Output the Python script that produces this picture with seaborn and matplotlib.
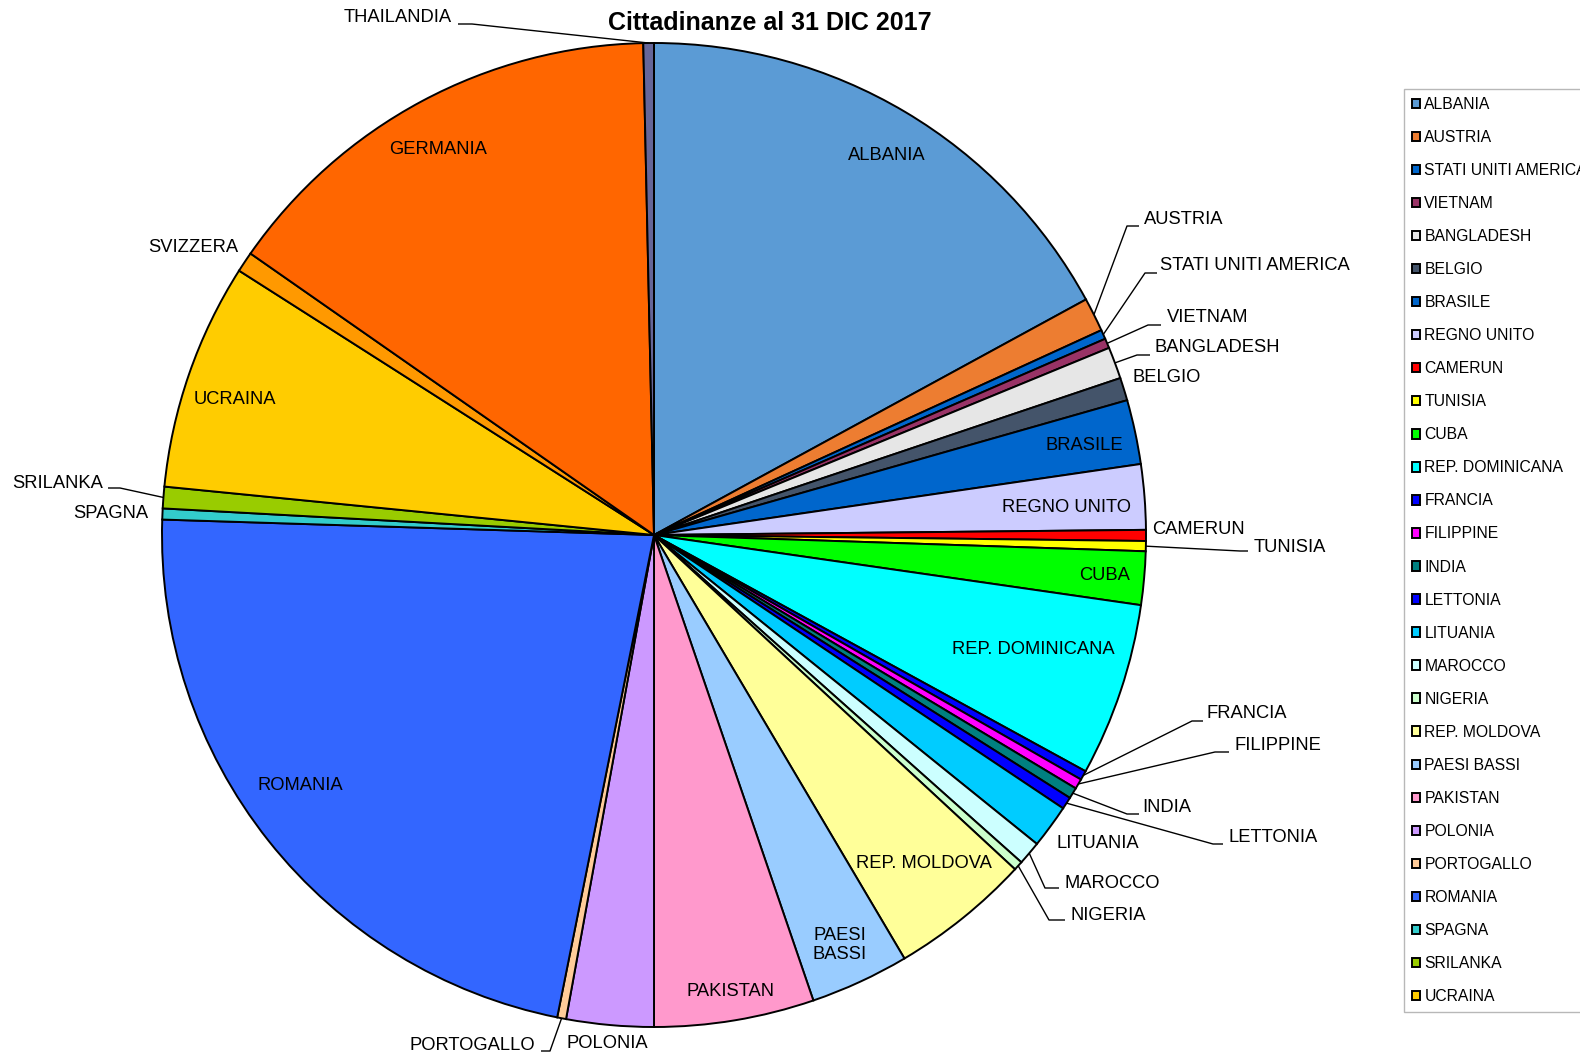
import matplotlib
matplotlib.use("Agg")
import matplotlib.pyplot as plt
import numpy as np
import seaborn as sns

# dati (quote della torta, in gradi)
paesi = ['ALBANIA', 'AUSTRIA', 'STATI UNITI AMERICA', 'VIETNAM', 'BANGLADESH', 'BELGIO',
         'BRASILE', 'REGNO UNITO', 'CAMERUN', 'TUNISIA', 'CUBA', 'REP. DOMINICANA',
         'FRANCIA', 'FILIPPINE', 'INDIA', 'LETTONIA', 'LITUANIA', 'MAROCCO', 'NIGERIA',
         'REP. MOLDOVA', 'PAESI BASSI', 'PAKISTAN', 'POLONIA', 'PORTOGALLO', 'ROMANIA',
         'SPAGNA', 'SRILANKA', 'UCRAINA', 'SVIZZERA', 'GERMANIA', 'THAILANDIA']
valori = [61.4, 4.0, 1.1, 1.15, 3.75, 2.7,
          7.6, 7.7, 1.3, 1.2, 6.3, 20.5,
          1.1, 1.2, 1.3, 1.45, 5.15, 2.8, 1.1,
          16.6, 11.7, 18.9, 10.3, 1.05, 80.45,
          1.3, 2.55, 26.85, 2.4, 53.85, 1.25]
colori = ['#5B9BD5', '#ED7D31', '#0066CC', '#993366', '#E6E6E6', '#44546A',
          '#0066CC', '#CCCCFF', '#FF0000', '#FFFF00', '#00FF00', '#00FFFF',
          '#0000FF', '#FF00FF', '#008080', '#0000FF', '#00CCFF', '#CCFFFF', '#CCFFCC',
          '#FFFF99', '#99CCFF', '#FF99CC', '#CC99FF', '#FFCC99', '#3366FF',
          '#33CCCC', '#99CC00', '#FFCC00', '#FF9900', '#FF6600', '#666699']
n_legenda = 28  # la legenda originale mostra solo le prime 28 voci (tagliata a destra)

W, H = 1580, 1058

sns.set_theme(style="white")
plt.rcParams['font.family'] = ['Liberation Sans', 'DejaVu Sans']
plt.rcParams['text.color'] = 'black'

fig = plt.figure(figsize=(W / 100, H / 100), dpi=100)
ax = fig.add_axes([0, 0, 1, 1])

cx, cy, r = 654, H - 535, 492
wedges, _ = ax.pie(valori, colors=colori, startangle=90, counterclock=False,
                   center=(cx, cy), radius=r,
                   wedgeprops=dict(edgecolor='black', linewidth=1.4))
ax.set_xlim(0, W)
ax.set_ylim(0, H)
ax.set_aspect('auto')
ax.axis('off')

fs = 13.2

# etichette interne: (x, y dall'alto)
interne = {
    'ALBANIA': (887, 156), 'GERMANIA': (438, 150), 'UCRAINA': (235, 400),
    'ROMANIA': (300, 786), 'PAKISTAN': (730, 991), 'PAESI BASSI': (840, 945),
    'REP. MOLDOVA': (924, 864), 'REP. DOMINICANA': (1033, 650), 'CUBA': (1105, 576),
    'REGNO UNITO': (1067, 508), 'BRASILE': (1084, 446),
}
for nome, (x, y) in interne.items():
    testo = 'PAESI\nBASSI' if nome == 'PAESI BASSI' else nome
    ax.text(x, H - y, testo, ha='center', va='center', fontsize=fs, linespacing=1.1)

# etichette esterne senza linea guida: (x, y, allineamento)
libere = {
    'SVIZZERA': (148, 248, 'left'), 'SPAGNA': (73, 514, 'left'),
    'POLONIA': (566, 1044, 'left'), 'LITUANIA': (1056, 844, 'left'),
    'CAMERUN': (1152, 530, 'left'), 'BELGIO': (1133, 378, 'left'),
}
for nome, (x, y, ha) in libere.items():
    ax.text(x, H - y, nome, ha=ha, va='center', fontsize=fs)

# etichette con linea guida: testo (x, y, ha), gomito (x, y), fine tratto orizzontale
guidate = {
    'THAILANDIA': ((452, 18, 'right'), (472, 24), 458),
    'SRILANKA': ((103, 484, 'right'), (120, 488), 108),
    'PORTOGALLO': ((535, 1046, 'right'), (550, 1051), 541),
    'NIGERIA': ((1071, 916, 'left'), (1049, 920), 1065),
    'MAROCCO': ((1064, 884, 'left'), (1045, 888), 1059),
    'LETTONIA': ((1228, 838, 'left'), (1213, 844), 1223),
    'INDIA': ((1142, 808, 'left'), (1127, 814), 1139),
    'FILIPPINE': ((1235, 746, 'left'), (1215, 752), 1229),
    'FRANCIA': ((1206, 714, 'left'), (1192, 721), 1203),
    'TUNISIA': ((1254, 547, 'left'), (1240, 551), 1248),
    'BANGLADESH': ((1154, 348, 'left'), (1137, 355), 1150),
    'VIETNAM': ((1167, 318, 'left'), (1148, 325), 1161),
    'STATI UNITI AMERICA': ((1160, 266, 'left'), (1145, 273), 1157),
    'AUSTRIA': ((1144, 220, 'left'), (1127, 226), 1139),
}
for nome, ((tx, ty, ha), (ex, ey), hx) in guidate.items():
    w = wedges[paesi.index(nome)]
    ang = np.deg2rad((w.theta1 + w.theta2) / 2)
    px, py = cx + r * np.cos(ang), cy + r * np.sin(ang)
    ax.plot([px, ex, hx], [py, H - ey, H - ey], color='black', lw=1.0,
            clip_on=False, solid_capstyle='butt')
    ax.text(tx, H - ty, nome, ha=ha, va='center', fontsize=fs)

fig.text(770 / W, 1 - 23 / H, 'Cittadinanze al 31 DIC 2017', ha='center', va='center',
         fontsize=18, fontweight='bold')

leg = fig.legend(wedges[:n_legenda], paesi[:n_legenda], loc='upper left',
                 bbox_to_anchor=(1404 / W, 1 - 89 / H), borderaxespad=0,
                 fontsize=11.3, frameon=True, fancybox=False, edgecolor='#A6A6A6',
                 borderpad=0.5, labelspacing=1.15, handlelength=0.55, handleheight=0.55,
                 handletextpad=0.25)
leg.get_frame().set_linewidth(1.0)
for t in leg.get_texts():
    t.set_color('black')

fig.savefig('out.png', dpi=100)
